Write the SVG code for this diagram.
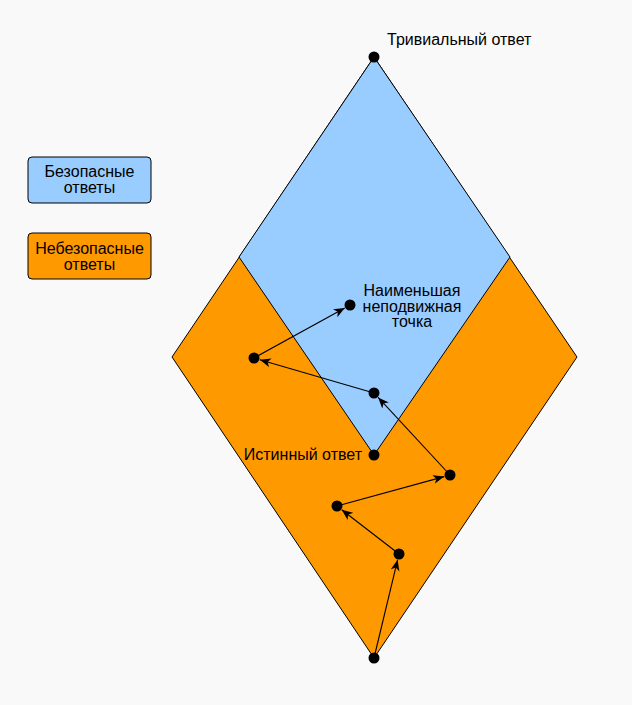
<svg xmlns="http://www.w3.org/2000/svg" width="632" height="705" viewBox="0 0 632 705">
<style>
text{font-family:"Liberation Sans",Arial,sans-serif;font-size:16px;fill:#000}
.dot{fill:#000}
.edge{stroke:#000;stroke-width:1.1;fill:none;marker-end:url(#ah)}
.region{stroke:#000;stroke-width:1}
</style>
<defs>
<marker id="ah" markerUnits="userSpaceOnUse" markerWidth="12" markerHeight="10" refX="11" refY="4.5" orient="auto">
<path d="M0,0 L11,4.5 L0,9 L3,4.5 z" fill="#000"/>
</marker>
</defs>
<rect width="632" height="705" fill="#f9f9f9"/>
<g id="unsafe-region"><path class="region" d="M374,57 L172,357 L374,658 L577,357 Z" fill="#ff9900"/></g>
<g id="safe-region"><path class="region" d="M374,57 L239,257 L374,455 L510,257 Z" fill="#99ccff"/></g>
<g id="legend-safe"><rect x="28" y="157" width="123" height="46" rx="4" fill="#99ccff" stroke="#000" stroke-width="1"/>
<text x="89.5" y="177" text-anchor="middle">Безопасные</text><text x="89.5" y="193" text-anchor="middle">ответы</text></g>
<g id="legend-unsafe"><rect x="28" y="233" width="123" height="46" rx="4" fill="#ff9900" stroke="#000" stroke-width="1"/>
<text x="89.5" y="254" text-anchor="middle">Небезопасные</text><text x="89.5" y="270" text-anchor="middle">ответы</text></g>
<g id="connectors">
<line class="edge" x1="374" y1="658" x2="397.6" y2="559.8"/>
<line class="edge" x1="399" y1="554" x2="341.7" y2="509.7"/>
<line class="edge" x1="337" y1="506" x2="444.2" y2="476.6"/>
<line class="edge" x1="450" y1="475" x2="378.1" y2="397.4"/>
<line class="edge" x1="374" y1="393" x2="259.8" y2="359.7"/>
<line class="edge" x1="254" y1="358" x2="344.8" y2="307.9"/>
</g>
<g id="trivial"><circle class="dot" cx="374" cy="57" r="5.5"/><text x="387" y="45">Тривиальный ответ</text></g>
<g id="least-fixed-point"><circle class="dot" cx="350" cy="305" r="5.5"/>
<text x="412" y="296" text-anchor="middle">Наименьшая</text><text x="412" y="311.5" text-anchor="middle">неподвижная</text><text x="412" y="327" text-anchor="middle">точка</text></g>
<g id="p1"><circle class="dot" cx="254" cy="358" r="5.5"/></g>
<g id="p2"><circle class="dot" cx="374" cy="393" r="5.5"/></g>
<g id="true-answer"><circle class="dot" cx="374" cy="455" r="5.5"/><text x="362" y="460" text-anchor="end">Истинный ответ</text></g>
<g id="p3"><circle class="dot" cx="450" cy="475" r="5.5"/></g>
<g id="p4"><circle class="dot" cx="337" cy="506" r="5.5"/></g>
<g id="p5"><circle class="dot" cx="399" cy="554" r="5.5"/></g>
<g id="bottom"><circle class="dot" cx="374" cy="658" r="5.5"/></g>
</svg>
